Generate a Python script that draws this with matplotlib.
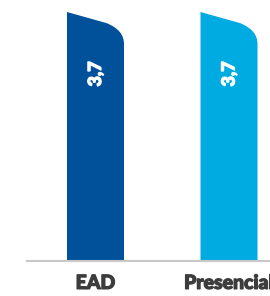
import os
import matplotlib
matplotlib.use('Agg')
import matplotlib.pyplot as plt
import matplotlib.patheffects as pe
from matplotlib.path import Path
from matplotlib.patches import PathPatch
from matplotlib import font_manager

# data
categories = ['EAD', 'Presencial']
values = [3.7, 3.7]
labels = ['3,7', '3,7']
colors = ['#00519A', '#00ABE2']


def lato_file(name):
    # pick a Lato face straight from its file (there are two Lato installs)
    for f in sorted(font_manager.fontManager.ttflist, key=lambda f: f.fname):
        if os.path.basename(f.fname) == name:
            return font_manager.FontProperties(fname=f.fname)
    return font_manager.FontProperties(family='DejaVu Sans', weight='bold')


bold = lato_file('Lato-Black.ttf')

fig = plt.figure(figsize=(2.70, 2.96), dpi=100)
ax = fig.add_axes([27/270., 35/296., 243/270., 261/296.])

bars = ax.bar(range(len(categories)), values, width=0.427, color=colors)

# swap each rectangle for the slanted/rounded top shape
for b, c in zip(bars, colors):
    x0 = b.get_x()
    w = b.get_width()
    h = b.get_height()
    x1 = x0 + w
    verts = [(x0, 0), (x0, h),
             (x0 + 0.70*w, h - 0.045*h),
             (x0 + 0.90*w, h - 0.065*h), (x1, h - 0.09*h), (x1, h - 0.13*h),
             (x1, 0), (x0, 0)]
    codes = [Path.MOVETO, Path.LINETO, Path.LINETO,
             Path.CURVE4, Path.CURVE4, Path.CURVE4,
             Path.LINETO, Path.CLOSEPOLY]
    ax.add_patch(PathPatch(Path(verts, codes), facecolor=c, edgecolor='none'))
    b.set_visible(False)

# value labels inside the bars (thin stroke to thicken the face)
for i, (v, lab) in enumerate(zip(values, labels)):
    ax.text(i, v - 0.92, lab, rotation=90, ha='center', va='center',
            color='white', fontproperties=bold, fontsize=13,
            path_effects=[pe.withStroke(linewidth=0.9, foreground='white')])

ax.set_xlim(-0.513, 1.307)
ax.set_ylim(0, 3.7*261/249.)

ax.set_xticks(range(len(categories)))
ax.set_xticklabels(categories, fontproperties=bold, fontsize=14, color='#3d3d3d')
for t in ax.get_xticklabels():
    t.set_path_effects([pe.withStroke(linewidth=0.9, foreground='#3d3d3d')])
ax.tick_params(axis='x', length=0, pad=10)
ax.set_yticks([])
for s in ['top', 'right', 'left']:
    ax.spines[s].set_visible(False)
ax.spines['bottom'].set_color('#c8c8c8')
ax.spines['bottom'].set_linewidth(1.5)

fig.savefig('out.png', dpi=100)
